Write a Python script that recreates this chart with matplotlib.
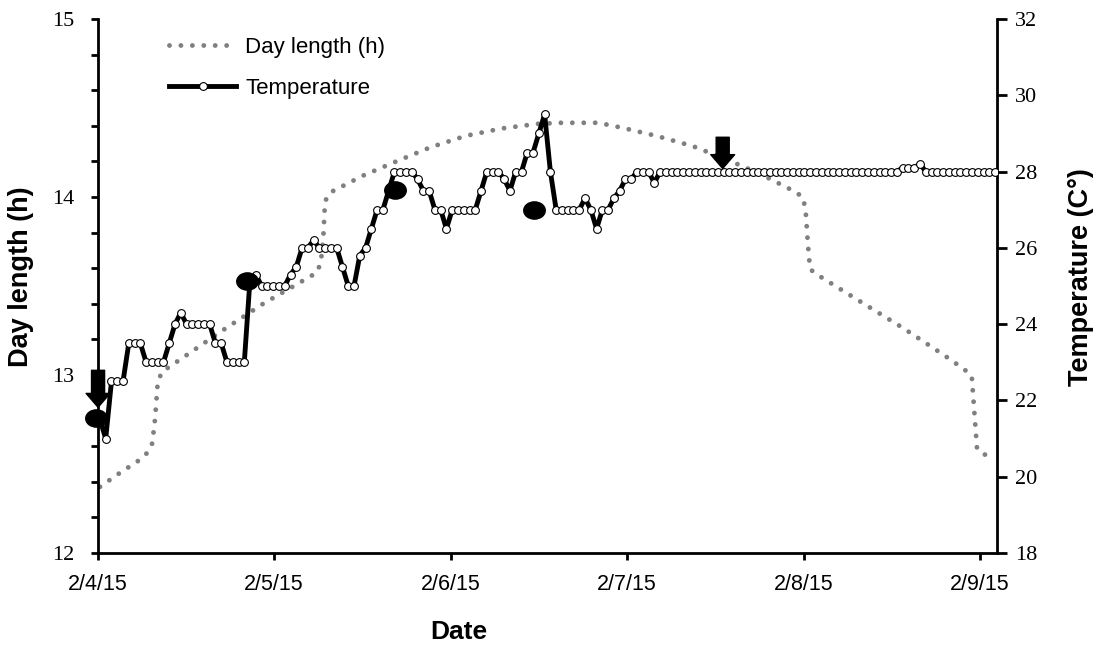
import numpy as np
import pandas as pd
import matplotlib
matplotlib.use("Agg")
import matplotlib.pyplot as plt
import matplotlib.dates as mdates
from matplotlib.path import Path
from matplotlib import font_manager as fm

# ---------------- data ----------------
start = pd.Timestamp("2015-02-04")
temp_start = start + pd.Timedelta(minutes=19.6)
temp_step = pd.Timedelta(seconds=2827)

temperature = [
    21.5, 21.0, 22.5, 22.5, 22.5, 23.5, 23.5, 23.5, 23.0, 23.0,
    23.0, 23.0, 23.5, 24.0, 24.3, 24.0, 24.0, 24.0, 24.0, 24.0,
    23.5, 23.5, 23.0, 23.0, 23.0, 23.0, 25.2, 25.3, 25.0, 25.0,
    25.0, 25.0, 25.0, 25.3, 25.5, 26.0, 26.0, 26.2, 26.0, 26.0,
    26.0, 26.0, 25.5, 25.0, 25.0, 25.8, 26.0, 26.5, 27.0, 27.0,
    27.5, 28.0, 28.0, 28.0, 28.0, 27.8, 27.5, 27.5, 27.0, 27.0,
    26.5, 27.0, 27.0, 27.0, 27.0, 27.0, 27.5, 28.0, 28.0, 28.0,
    27.8, 27.5, 28.0, 28.0, 28.5, 28.5, 29.0, 29.5, 28.0, 27.0,
    27.0, 27.0, 27.0, 27.0, 27.3, 27.0, 26.5, 27.0, 27.0, 27.3,
    27.5, 27.8, 27.8, 28.0, 28.0, 28.0, 27.7, 28.0, 28.0, 28.0,
    28.0, 28.0, 28.0, 28.0, 28.0, 28.0, 28.0, 28.0, 28.0, 28.0,
    28.0, 28.0, 28.0, 28.0, 28.0, 28.0, 28.0, 28.0, 28.0, 28.0,
    28.0, 28.0, 28.0, 28.0, 28.0, 28.0, 28.0, 28.0, 28.0, 28.0,
    28.0, 28.0, 28.0, 28.0, 28.0, 28.0, 28.0, 28.0, 28.0, 28.1,
    28.1, 28.1, 28.2, 28.0, 28.0, 28.0, 28.0, 28.0, 28.0, 28.0,
    28.0, 28.0, 28.0, 28.0, 28.0, 28.0,
]

daylen_days = [0.014, 0.122, 0.231, 0.282, 0.310, 0.326, 0.341, 0.364, 0.420, 0.477,
               0.709, 0.939, 1.119, 1.242, 1.265, 1.279, 1.289, 1.321, 1.506, 1.695,
               1.888, 2.088, 2.290, 2.492, 2.633, 2.837, 2.973, 3.172, 3.372, 3.564,
               3.754, 3.938, 3.994, 4.011, 4.025, 4.037, 4.090, 4.326, 4.564, 4.794,
               4.908, 4.953, 4.983, 5.038]
daylen_hours = [12.372, 12.447, 12.518, 12.563, 12.616, 12.754, 12.958, 13.017, 13.055, 13.093,
                13.251, 13.401, 13.504, 13.575, 13.631, 13.769, 13.977, 14.027, 14.121, 14.201,
                14.280, 14.344, 14.385, 14.411, 14.417, 14.417, 14.389, 14.342, 14.286, 14.211,
                14.130, 14.037, 14.002, 13.936, 13.732, 13.594, 13.556, 13.410, 13.264, 13.113,
                13.034, 12.995, 12.584, 12.546]

event_days = [-0.010, 0.847, 1.688, 2.474]
event_temps = [21.53, 25.12, 27.52, 27.0]

arrow_days = [0.003, 3.542]
arrow_tail_temps = [22.79, 28.90]
arrow_tip_temps = [21.82, 28.08]

x_end_days = 5.096
tick_labels_fmt = "%-m/%-d/%y"

# ---------------- fonts ----------------
names = {f.name for f in fm.fontManager.ttflist}
narrow = "Liberation Sans Narrow" if "Liberation Sans Narrow" in names else "Liberation Sans"
serif = "Liberation Serif"
sans = "Liberation Sans"

# ---------------- derived ----------------
temp_times = mdates.date2num(pd.DatetimeIndex([temp_start + i * temp_step for i in range(len(temperature))]).to_pydatetime())
dl_times = mdates.date2num((start + pd.to_timedelta(daylen_days, unit="D")).to_pydatetime())
ev_times = mdates.date2num((start + pd.to_timedelta(event_days, unit="D")).to_pydatetime())
ar_times = mdates.date2num((start + pd.to_timedelta(arrow_days, unit="D")).to_pydatetime())
x0 = mdates.date2num(start.to_pydatetime())
x1 = mdates.date2num((start + pd.Timedelta(days=x_end_days)).to_pydatetime())

fig = plt.figure(figsize=(11.02, 6.51), dpi=100)
ax1 = fig.add_axes([0.0885, 0.1505, 0.8162, 0.8203])
ax2 = ax1.twinx()

# day length (left)
l1, = ax1.plot(dl_times, daylen_hours, color="#808080", lw=3.5,
               linestyle=(0, (0.001, 2.35)), dash_capstyle="round",
               solid_capstyle="round", label="Day length (h)")
ax1.set_ylim(12, 15)
ax1.set_xlim(x0, x1)
ax1.set_yticks([12, 13, 14, 15])
ax1.set_yticks(np.arange(12, 15.001, 0.2), minor=True)

# temperature (right)
l2, = ax2.plot(temp_times, temperature, color="black", lw=3.5, marker="o",
               ms=5.6, mfc="white", mec="black", mew=0.8, label="Temperature",
               zorder=3)
ax2.set_ylim(18, 32)
ax2.set_yticks(np.arange(18, 33, 2))

# events (black ellipses)
circ = Path.unit_circle()
ellipse = Path(circ.vertices * np.array([1.0, 0.8]), circ.codes)
ax2.plot(ev_times, event_temps, linestyle="none", marker=ellipse, ms=15.5,
         color="black", zorder=5, clip_on=False)

# arrows
for xt, tt, tp in zip(ar_times, arrow_tail_temps, arrow_tip_temps):
    ax2.annotate("", xy=(xt, tp), xytext=(xt, tt),
                 arrowprops=dict(arrowstyle="simple,head_length=0.5,head_width=0.86,tail_width=0.47",
                                 fc="black", ec="black", shrinkA=0, shrinkB=0,
                                 mutation_scale=20), zorder=6)

# axes styling
for ax in (ax1, ax2):
    ax.spines["top"].set_visible(False)
    for s in ("left", "right", "bottom"):
        ax.spines[s].set_linewidth(2.0)
ax1.spines["right"].set_visible(False)
ax2.spines["left"].set_visible(False)
ax2.spines["bottom"].set_visible(False)

ax1.xaxis.set_major_locator(mdates.DayLocator())
ax1.xaxis.set_major_formatter(mdates.DateFormatter(tick_labels_fmt))
ax1.tick_params(axis="x", direction="out", length=5, width=2, pad=10,
                labelsize=15.5, labelfontfamily=narrow)
ax1.tick_params(axis="y", which="both", direction="out", length=5, width=2,
                pad=12, labelsize=16, labelfontfamily=serif)
ax2.tick_params(axis="y", direction="out", length=7, width=2, pad=6,
                labelsize=16, labelfontfamily=serif)

ax1.set_xlabel("Date", fontsize=19, fontweight="bold", fontfamily=sans)
ax1.xaxis.set_label_coords(0.402, -0.125)
ax1.set_ylabel("Day length (h)", fontsize=19.5, fontweight="bold", fontfamily=sans)
ax1.yaxis.set_label_coords(-0.071, 0.517)
ax2.set_ylabel("Temperature (C°)", fontsize=19.5, fontweight="bold", fontfamily=sans,
               rotation=90)
ax2.yaxis.set_label_coords(1.079, 0.517)

leg = ax1.legend(handles=[l1, l2], loc="upper left", bbox_to_anchor=(0.08, 0.967),
                 frameon=False, fontsize=16, handlelength=3.0, handletextpad=0.4,
                 labelspacing=0.9, borderpad=0, borderaxespad=0, numpoints=1)
for t in leg.get_texts():
    t.set_fontfamily(sans)

fig.savefig("out.png", dpi=100)
